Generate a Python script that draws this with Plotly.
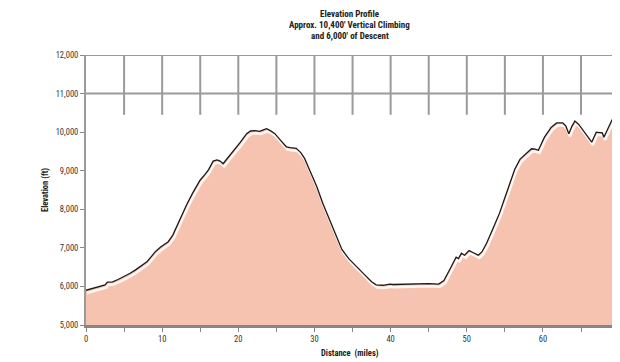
import plotly.graph_objects as go

distance_mi = [0, 0.5, 1.0, 1.5, 2.0, 2.5, 2.8, 3.5, 4.2, 5.0, 5.8, 6.5, 7.2, 8.0, 8.6, 9.1, 9.8,
               10.8, 11.4, 11.9, 12.5, 13.2, 14.0, 15.0, 15.6, 16.1, 16.7, 17.2, 17.6, 18.0, 18.6,
               19.3, 20.2, 21.1, 21.6, 22.2, 22.8, 23.3, 23.7, 24.2, 24.8, 25.5, 26.3, 26.8, 27.6,
               28.2, 28.7, 29.4, 30.3, 31.1, 32.0, 32.8, 33.6, 34.5, 35.5, 36.6, 37.5, 38.1, 39.0,
               39.9, 40.3, 41.5, 42.8, 43.8, 45.0, 46.3, 47.0, 47.8, 48.6, 48.9, 49.3, 49.7, 50.3,
               50.8, 51.5, 52.0, 52.6, 53.4, 54.3, 55.0, 55.6, 56.3, 57.0, 57.8, 58.5, 59.0, 59.4,
               60.2, 61.1, 61.8, 62.6, 63.0, 63.4, 63.8, 64.2, 64.7, 65.3, 65.9, 66.4, 67.0, 67.5,
               67.8, 68.0, 68.5, 69.1]
elevation_ft = [5900, 5930, 5960, 5990, 6010, 6040, 6110, 6120, 6180, 6250, 6340, 6430, 6520, 6640,
                6780, 6900, 7020, 7160, 7330, 7550, 7830, 8110, 8420, 8760, 8900, 9030, 9250, 9280,
                9250, 9180, 9330, 9490, 9720, 9960, 10030, 10040, 10020, 10060, 10090, 10040, 9960,
                9800, 9620, 9600, 9580, 9470, 9320, 9000, 8590, 8150, 7720, 7300, 6960, 6720, 6510,
                6300, 6120, 6040, 6030, 6060, 6050, 6060, 6070, 6080, 6075, 6060, 6150, 6450, 6760,
                6720, 6860, 6810, 6930, 6880, 6810, 6900, 7120, 7480, 7900, 8300, 8660, 9040, 9300,
                9450, 9570, 9560, 9530, 9870, 10130, 10240, 10240, 10160, 9960, 10150, 10290, 10200,
                10050, 9880, 9740, 10000, 9990, 9980, 9870, 10100, 10330]

title_lines = ["Elevation Profile", "Approx. 10,400' Vertical Climbing", "and 6,000' of Descent"]
x_title = "Distance  (miles)"
y_title = "Elevation (ft)"
x_ticks = [0, 5, 10, 15, 20, 25, 30, 35, 40, 45, 50, 55, 60, 65]
x_tick_text = ["0", "", "10", "", "20", "", "30", "", "40", "", "50", "", "60", ""]
y_ticks = [5000, 6000, 7000, 8000, 9000, 10000, 11000, 12000]
y_tick_text = ["5,000", "6,000", "7,000", "8,000", "9,000", "10,000", "11,000", "12,000"]
grid_x = [5, 10, 15, 20, 25, 30, 35, 40, 45, 50, 55, 60, 65]
grid_y = [11000, 12000]
grid_bottom = 10450
x_max = 69.2

FONT = "Liberation Sans Narrow, Arial Narrow, Roboto Condensed, Arial, sans-serif"

fig = go.Figure()

shapes = []
for gx in grid_x:
    shapes.append(dict(type="line", xref="x", yref="y", x0=gx, x1=gx, y0=grid_bottom, y1=12000,
                       line=dict(color="#9a9a9a", width=2), layer="below"))
for gy in grid_y:
    shapes.append(dict(type="line", xref="x", yref="y", x0=0, x1=x_max, y0=gy, y1=gy,
                       line=dict(color="#9a9a9a", width=2), layer="below"))
shapes.append(dict(type="line", xref="x", yref="y", x0=x_max, x1=x_max, y0=5000, y1=elevation_ft[-1],
                   line=dict(color="#8a6a60", width=2), layer="above"))

fig.add_trace(go.Scatter(x=distance_mi + [x_max], y=elevation_ft + [elevation_ft[-1]],
                         mode="lines", fill="tozeroy",
                         fillcolor="#f6c3b1", line=dict(color="rgba(0,0,0,0)", width=0),
                         hoverinfo="skip", showlegend=False))
fig.add_trace(go.Scatter(x=[d + 0.15 for d in distance_mi], y=[e - 70 for e in elevation_ft],
                         mode="lines", line=dict(color="#fff6f2", width=2.5),
                         hoverinfo="skip", showlegend=False))
fig.add_trace(go.Scatter(x=distance_mi, y=elevation_ft, mode="lines",
                         line=dict(color="#1a1a1a", width=1.3), showlegend=False))

title_offsets = [41, 30, 19]  # px above plot top (plot top at 55 px)
annotations = []
for line, off in zip(title_lines, title_offsets):
    annotations.append(dict(text="<b>" + line + "</b>", xref="paper", yref="paper",
                            x=0.5, y=1 + off / 270, xanchor="center", yanchor="middle",
                            showarrow=False, font=dict(family=FONT, size=9, color="#222")))
annotations.append(dict(text="<b>" + x_title + "</b>", xref="paper", yref="paper",
                        x=0.5, y=-28 / 270, xanchor="center", yanchor="middle", showarrow=False,
                        font=dict(family=FONT, size=8.5, color="#222")))
annotations.append(dict(text="<b>" + y_title + "</b>", xref="paper", yref="paper",
                        x=-41 / 527, y=0.5, xanchor="center", yanchor="middle", showarrow=False,
                        textangle=-90, font=dict(family=FONT, size=8.5, color="#222")))

# page body has an 8px default margin, so the figure is 612x354 placed at (8, 8)
fig.update_layout(
    width=612, height=354,
    margin=dict(l=78, r=7, t=47, b=37, autoexpand=False),
    paper_bgcolor="white", plot_bgcolor="white",
    shapes=shapes, annotations=annotations,
    xaxis=dict(range=[0, x_max], tickvals=x_ticks, ticktext=x_tick_text, showgrid=False,
               zeroline=False, showline=True, linecolor="#8c8484", linewidth=3,
               ticks="outside", ticklen=4, tickcolor="#888", automargin=False,
               tickfont=dict(family=FONT, size=8.5, color="#333")),
    yaxis=dict(range=[5000, 12000], tickvals=y_ticks, ticktext=y_tick_text, showgrid=False,
               zeroline=False, showline=True, linecolor="#9a9a9a", linewidth=2,
               ticks="outside", ticklen=4, tickcolor="#888", automargin=False,
               tickfont=dict(family=FONT, size=8.5, color="#333")),
)

fig.write_html("out.html")
